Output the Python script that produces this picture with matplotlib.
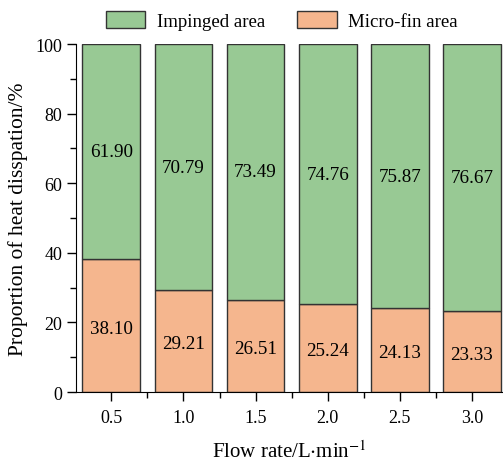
import matplotlib.pyplot as plt
import numpy as np
from matplotlib.ticker import MultipleLocator

plt.rcParams['font.family'] = ['Liberation Serif', 'DejaVu Serif']
plt.rcParams['mathtext.fontset'] = 'stix'

flow = ["0.5", "1.0", "1.5", "2.0", "2.5", "3.0"]
impinged = [61.90, 70.79, 73.49, 74.76, 75.87, 76.67]
microfin = [38.10, 29.21, 26.51, 25.24, 24.13, 23.33]

green = "#98c994"
orange = "#f5b68e"

fig = plt.figure(figsize=(5.03, 4.64), dpi=100)
ax = fig.add_axes([0.151, 0.153, 0.849, 0.75])

x = np.arange(len(flow))
ax.bar(x, microfin, width=0.8, color=orange, edgecolor="#333333", linewidth=1, label="Micro-fin area")
ax.bar(x, impinged, width=0.8, bottom=microfin, color=green, edgecolor="#333333", linewidth=1, label="Impinged area")

for i in range(len(flow)):
    ax.text(x[i], microfin[i] / 2 - 0.8, "%.2f" % microfin[i], ha="center", va="center", fontsize=13.7)
    ax.text(x[i], microfin[i] + impinged[i] / 2, "%.2f" % impinged[i], ha="center", va="center", fontsize=13.7)

ax.set_xlim(-0.49, 5.43)
ax.set_ylim(0, 100)
ax.set_xticks(x)
ax.set_xticklabels(flow)
ax.set_xticks(x[:-1] + 0.5, minor=True)
ax.yaxis.set_major_locator(MultipleLocator(20))
ax.yaxis.set_minor_locator(MultipleLocator(10))
ax.tick_params(axis="both", which="major", labelsize=13, length=6.5, direction="out", width=1)
ax.tick_params(axis="x", which="major", pad=6)
ax.tick_params(axis="both", which="minor", length=4, direction="out", width=1)
ax.spines["top"].set_visible(False)
ax.spines["right"].set_visible(False)
ax.set_xlabel("Flow rate/L$\\cdot$min$^{-1}$", fontsize=15, labelpad=10)
ax.set_ylabel("Proportion of heat disspation/%", fontsize=15.5, labelpad=5)

handles, labels = ax.get_legend_handles_labels()
fig.legend(handles[::-1], labels[::-1], loc="upper center", bbox_to_anchor=(0.56, 1.01), ncol=2,
           frameon=False, fontsize=13.6, handlelength=2.1, handleheight=1.0, handletextpad=0.6,
           columnspacing=1.7)

fig.savefig("out.png", dpi=100)
